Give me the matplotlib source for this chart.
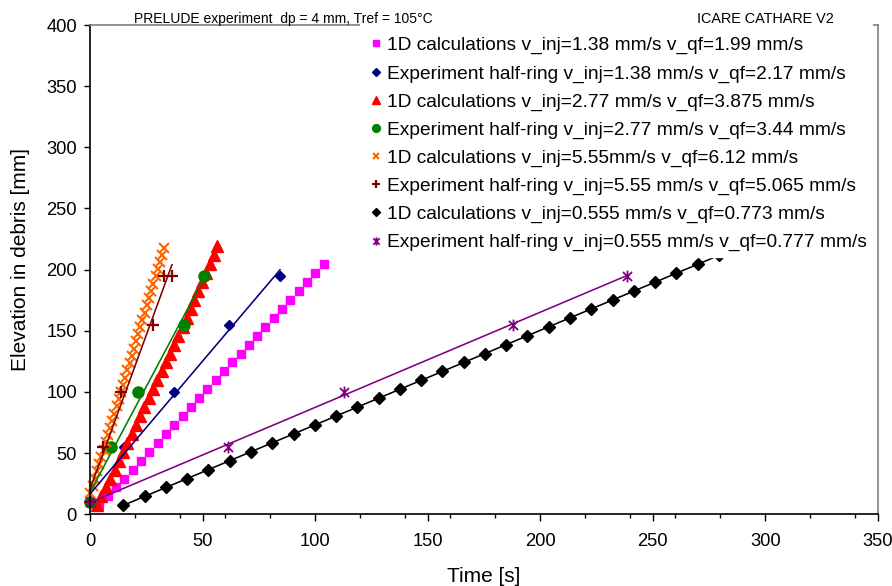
import numpy as np
import matplotlib
matplotlib.use('Agg')
import matplotlib.pyplot as plt
from matplotlib.path import Path
from matplotlib.patches import Rectangle
from matplotlib.ticker import MultipleLocator, FixedLocator

plt.rcParams['font.family'] = ['Liberation Sans', 'DejaVu Sans']

# ---------------- data ----------------
# 1D calculations v_inj=1.38 mm/s (magenta squares)
t_calc_138 = [4.2, 7.9, 11.6, 15.3, 18.9, 22.6, 26.3, 30.0, 33.7, 37.4, 41.1, 44.8, 48.4, 52.1,
              55.8, 59.5, 63.2, 66.9, 70.6, 74.3, 77.9, 81.6, 85.3, 89.0, 92.7, 96.4, 100.1, 103.8]
h_calc_138 = [7.3, 14.6, 21.9, 29.2, 36.5, 43.8, 51.1, 58.4, 65.7, 73.0, 80.3, 87.6, 94.9, 102.2,
              109.5, 116.8, 124.1, 131.4, 138.7, 146.0, 153.3, 160.6, 167.9, 175.2, 182.5, 189.8, 197.1, 204.4]

# Experiment half-ring v_inj=1.38 mm/s (navy diamonds)
t_exp_138 = [0.0, 15.2, 37.5, 61.8, 84.4]
h_exp_138 = [10, 55, 100, 155, 195]

# 1D calculations v_inj=2.77 mm/s (red triangles)
t_calc_277 = [3.0, 5.0, 7.0, 9.0, 10.9, 12.8, 14.7, 16.6, 18.5, 20.4, 22.3, 24.2, 26.1, 28.0, 29.9,
              31.8, 33.7, 35.6, 37.5, 39.3, 41.1, 42.9, 44.7, 46.4, 48.1, 49.8, 51.5, 53.2, 54.9, 56.6]
h_calc_277 = [7.3, 14.6, 21.9, 29.2, 36.5, 43.8, 51.1, 58.4, 65.7, 73.0, 80.3, 87.6, 94.9, 102.2, 109.5,
              116.8, 124.1, 131.4, 138.7, 146.0, 153.3, 160.6, 167.9, 175.2, 182.5, 189.8, 197.1, 204.4, 211.7, 219.0]

# Experiment half-ring v_inj=2.77 mm/s (green circles)
t_exp_277 = [0.0, 9.3, 21.2, 41.9, 50.6]
h_exp_277 = [10, 55, 100, 155, 195]

# 1D calculations v_inj=5.55 mm/s (orange crosses)
t_calc_555 = [0.2, 1.2, 2.1, 3.1, 4.1, 5.0, 6.0, 6.9, 7.9, 8.9, 9.8, 10.8, 11.8, 12.7, 13.7, 14.7, 15.6, 16.6,
              17.6, 18.5, 19.5, 20.4, 21.4, 22.4, 23.3, 24.3, 25.3, 26.2, 27.2, 28.2, 29.1, 30.1, 31.1, 32.0, 33.0]
h_calc_555 = [17.4, 23.3, 29.2, 35.1, 41.0, 46.9, 52.8, 58.7, 64.6, 70.5, 76.4, 82.3, 88.2, 94.1, 100.0, 105.9,
              111.8, 117.7, 123.6, 129.5, 135.4, 141.3, 147.2, 153.1, 159.0, 164.9, 170.8, 176.7, 182.6, 188.5,
              194.4, 200.3, 206.2, 212.1, 218.0]

# Experiment half-ring v_inj=5.55 mm/s (dark red plus)
t_exp_555 = [0.0, 5.8, 13.8, 27.8, 32.7, 36.4]
h_exp_555 = [10, 55, 100, 155, 195, 195]

# 1D calculations v_inj=0.555 mm/s (black diamonds)
t_calc_0555 = [14.8, 24.3, 33.7, 43.2, 52.6, 62.0, 71.5, 80.9, 90.4, 99.8, 109.3, 118.7, 128.2, 137.6, 147.1,
               156.5, 166.0, 175.4, 184.9, 194.3, 203.8, 213.2, 222.7, 232.1, 241.6, 251.0, 260.5, 269.9, 279.4, 288.8]
h_calc_0555 = [7.3, 14.6, 21.9, 29.2, 36.5, 43.8, 51.1, 58.4, 65.7, 73.0, 80.3, 87.6, 94.9, 102.2, 109.5,
               116.8, 124.1, 131.4, 138.7, 146.0, 153.3, 160.6, 167.9, 175.2, 182.5, 189.8, 197.1, 204.4, 211.7, 219.0]

# Experiment half-ring v_inj=0.555 mm/s (purple asterisks)
t_exp_0555 = [0.0, 61.3, 112.8, 187.8, 238.4]
h_exp_0555 = [10, 55, 100, 155, 195]

labels = [
    "1D calculations v_inj=1.38 mm/s v_qf=1.99 mm/s",
    "Experiment half-ring v_inj=1.38 mm/s v_qf=2.17 mm/s",
    "1D calculations v_inj=2.77 mm/s v_qf=3.875 mm/s",
    "Experiment half-ring v_inj=2.77 mm/s v_qf=3.44 mm/s",
    "1D calculations v_inj=5.55mm/s v_qf=6.12 mm/s",
    "Experiment half-ring v_inj=5.55 mm/s v_qf=5.065 mm/s",
    "1D calculations v_inj=0.555 mm/s v_qf=0.773 mm/s",
    "Experiment half-ring v_inj=0.555 mm/s v_qf=0.777 mm/s",
]

x_major = 50
x_minor_ticks = [20, 40, 60, 80, 120, 140, 160, 180, 220, 240, 260, 280, 320, 340]

# ---------------- figure ----------------
fig = plt.figure(figsize=(8.92, 5.86), dpi=100)
ax = fig.add_axes([0.1009, 0.1224, 0.8834, 0.8349])

asterisk = Path([(-1, -1), (1, 1), (-1, 1), (1, -1), (0, -1.3), (0, 1.3)],
                [Path.MOVETO, Path.LINETO, Path.MOVETO, Path.LINETO, Path.MOVETO, Path.LINETO])

series = [
    (t_calc_138, h_calc_138, dict(marker='s', color='#FF00FF', ms=6, mec='#FF00FF'), False),
    (t_exp_138, h_exp_138, dict(marker='D', color='#000080', ms=5.5, mec='#000080'), True),
    (t_calc_277, h_calc_277, dict(marker='^', color='#FF0000', ms=8, mec='#FF0000'), False),
    (t_exp_277, h_exp_277, dict(marker='o', color='#008000', ms=8, mec='#008000'), True),
    (t_calc_555, h_calc_555, dict(marker='x', color='#FF6600', ms=6.5, mew=1.5), False),
    (t_exp_555, h_exp_555, dict(marker='+', color='#800000', ms=8.5, mew=1.6), True),
    (t_calc_0555, h_calc_0555, dict(marker='D', color='#000000', ms=5.8, mec='#000000'), True),
    (t_exp_0555, h_exp_0555, dict(marker=asterisk, color='#800080', ms=8.5, mew=1.3), True),
]

handles = []
for (t, h, style, trend), lab in zip(series, labels):
    ln, = ax.plot(t, h, linestyle='none', label=lab, zorder=2, clip_on=False, **style)
    handles.append(ln)
    if trend:
        coef = np.polyfit(t, h, 1)
        tt = np.array([min(t), max(t)])
        ax.plot(tt, np.polyval(coef, tt), color=style['color'], lw=1.15, zorder=2.5)

ax.set_xlim(0, 350)
ax.set_ylim(0, 400)
ax.xaxis.set_major_locator(MultipleLocator(x_major))
ax.xaxis.set_minor_locator(FixedLocator(x_minor_ticks))
ax.yaxis.set_major_locator(MultipleLocator(50))

ax.tick_params(axis='x', which='major', direction='out', length=4.8, width=1, pad=9,
               labelsize=13.2, colors='black')
ax.tick_params(axis='x', which='minor', direction='out', length=3.2, width=1)
ax.tick_params(axis='y', which='major', direction='out', length=4.5, width=1, pad=5,
               labelsize=13.2)

for s in ['left', 'bottom']:
    ax.spines[s].set_color('black')
    ax.spines[s].set_linewidth(1.2)
for s in ['top', 'right']:
    ax.spines[s].set_color('#808080')
    ax.spines[s].set_linewidth(1.2)

fig.text(21 / 892, 1 - 260 / 586, "Elevation in debris [mm]", rotation=90,
         ha='center', va='center', fontsize=15)
fig.text(484 / 892, 1 - 576 / 586, "Time [s]", ha='center', va='center', fontsize=15)
fig.text(134 / 892, 1 - 19 / 586, "PRELUDE experiment  dp = 4 mm, Tref = 105\u00b0C",
         ha='left', va='center', fontsize=10)
fig.text(834 / 892, 1 - 19 / 586, "ICARE CATHARE V2", ha='right', va='center', fontsize=10.4)

leg = ax.legend(handles=handles, loc='upper left', bbox_to_anchor=(0.348, 0.9877),
                frameon=True, fancybox=False, edgecolor='white', facecolor='white',
                framealpha=1, fontsize=13.8, handlelength=0.6, handletextpad=0.3,
                labelspacing=0.55, borderpad=0.3, borderaxespad=0, markerscale=0.7)
leg.set_zorder(10)

# white strip: the legend area hides the top border of the plot box in the reference
ax.add_patch(Rectangle((0.343, 0.975), 0.651, 0.04, transform=ax.transAxes,
                       facecolor='white', edgecolor='none', clip_on=False, zorder=11))

fig.savefig('out.png', dpi=100)
